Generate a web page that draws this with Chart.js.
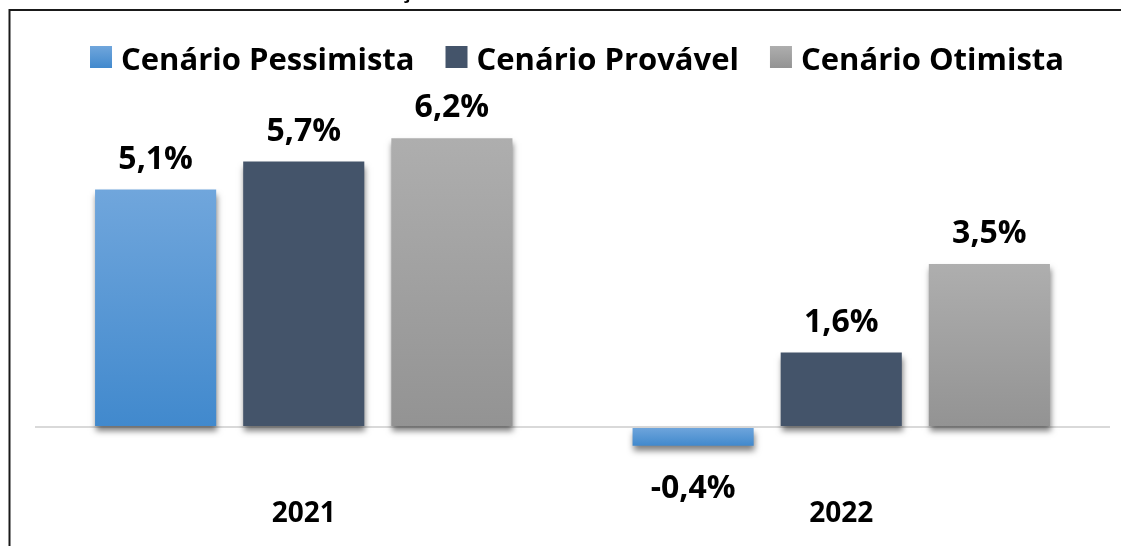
<!DOCTYPE html>
<html>
<head>
<meta charset="utf-8">
<script src="https://cdn.jsdelivr.net/npm/chart.js@4.4.1/dist/chart.umd.min.js"></script>
<style>
html,body{margin:0;padding:0;background:#fff;}
#wrap{width:1121px;height:546px;position:relative;}
</style>
</head>
<body>
<div id="wrap"><canvas id="c" width="1121" height="546"></canvas></div>
<script>
const categories = ['2021', '2022'];
const seriesNames = ['Cenário Pessimista', 'Cenário Provável', 'Cenário Otimista'];
const pessimista = [5.1, -0.4];
const provavel = [5.7, 1.6];
const otimista = [6.2, 3.5];

const FONT = '"Open Sans", "Noto Sans", sans-serif';
const colorStops = [
  ['#70a6dc', '#4189cd'],
  ['#44546a', '#44546a'],
  ['#aeaeae', '#939393']
];
const legendColors = ['#5a98d6', '#44546a', '#a3a3a3'];

function barGradient(dsIndex) {
  return function(ctx) {
    const chart = ctx.chart;
    if (ctx.type !== 'data' || !chart.chartArea) return legendColors[dsIndex];
    const y = chart.scales.y;
    const v = ctx.raw;
    const top = y.getPixelForValue(Math.max(v, 0));
    const bot = y.getPixelForValue(Math.min(v, 0));
    const g = chart.ctx.createLinearGradient(0, top, 0, bot + 0.01);
    g.addColorStop(0, colorStops[dsIndex][0]);
    g.addColorStop(1, colorStops[dsIndex][1]);
    return g;
  };
}

const frameAndShadow = {
  id: 'frameAndShadow',
  beforeDraw(chart) {
    const c = chart.ctx;
    c.save();
    c.fillStyle = '#fff';
    c.fillRect(0, 0, chart.width, chart.height);
    c.strokeStyle = '#1a1a1a';
    c.lineWidth = 2;
    c.beginPath();
    c.moveTo(9.5, chart.height);
    c.lineTo(9.5, 10);
    c.lineTo(chart.width, 10);
    c.stroke();
    // clipped title remnant
    c.fillStyle = '#000';
    c.font = 'bold 22px ' + FONT;
    c.textAlign = 'center';
    c.textBaseline = 'alphabetic';
    c.fillText('ç', 406, -2);

    // legend
    c.font = 'bold 31px ' + FONT;
    c.textAlign = 'left';
    const box = 22, gapIn = 9, gapOut = 31;
    const labels = chart.data.datasets.map(d => d.label);
    const widths = labels.map(t => c.measureText(t).width);
    let total = 0;
    widths.forEach((w, i) => { total += box + gapIn + w + (i < widths.length - 1 ? gapOut : 0); });
    let x = 577 - total / 2;
    labels.forEach((t, i) => {
      const g = c.createLinearGradient(0, 46, 0, 68);
      g.addColorStop(0, colorStops[i][0]);
      g.addColorStop(1, colorStops[i][1]);
      c.fillStyle = g;
      c.fillRect(x, 46, box, box);
      x += box + gapIn;
      c.fillStyle = '#000';
      c.fillText(t, x, 70);
      x += widths[i] + gapOut;
    });
    c.restore();
  },
  beforeDatasetsDraw(chart) {
    const c = chart.ctx;
    c.save();
    c.shadowColor = 'rgba(0,0,0,0.5)';
    c.shadowBlur = 6;
    c.shadowOffsetX = 1;
    c.shadowOffsetY = 5;
  },
  afterDatasetsDraw(chart) {
    chart.ctx.restore();
  },
  afterDraw(chart) {
    const c = chart.ctx;
    c.save();
    c.fillStyle = '#000';
    c.font = 'bold 32px ' + FONT;
    c.textAlign = 'center';
    c.textBaseline = 'alphabetic';
    chart.data.datasets.forEach((ds, i) => {
      const meta = chart.getDatasetMeta(i);
      meta.data.forEach((bar, j) => {
        const v = ds.data[j];
        const txt = v.toFixed(1).replace('.', ',') + '%';
        if (v >= 0) {
          c.fillText(txt, bar.x, bar.y - 21);
        } else {
          c.fillText(txt, bar.x, bar.y + 52);
        }
      });
    });
    c.restore();
  }
};

new Chart(document.getElementById('c'), {
  type: 'bar',
  data: {
    labels: categories,
    datasets: [
      { label: seriesNames[0], data: pessimista, backgroundColor: barGradient(0) },
      { label: seriesNames[1], data: provavel, backgroundColor: barGradient(1) },
      { label: seriesNames[2], data: otimista, backgroundColor: barGradient(2) }
    ]
  },
  options: {
    responsive: false,
    animation: false,
    events: [],
    categoryPercentage: 0.8268,
    barPercentage: 0.8176,
    layout: { padding: { left: 35, right: 11, top: 101, bottom: 15 } },
    plugins: {
      tooltip: { enabled: false },
      legend: { display: false }
    },
    scales: {
      x: {
        grid: { display: false, drawTicks: false },
        border: { display: false },
        ticks: { color: '#000', font: { family: FONT, size: 28, weight: 'bold' }, padding: 0 }
      },
      y: {
        min: -1.51,
        max: 7.0,
        afterBuildTicks(axis) { axis.ticks = [{ value: 0 }]; },
        grid: { color: '#d9d9d9', lineWidth: 2, drawTicks: false },
        border: { display: false },
        ticks: { display: false }
      }
    }
  },
  plugins: [frameAndShadow]
});
</script>
</body>
</html>
